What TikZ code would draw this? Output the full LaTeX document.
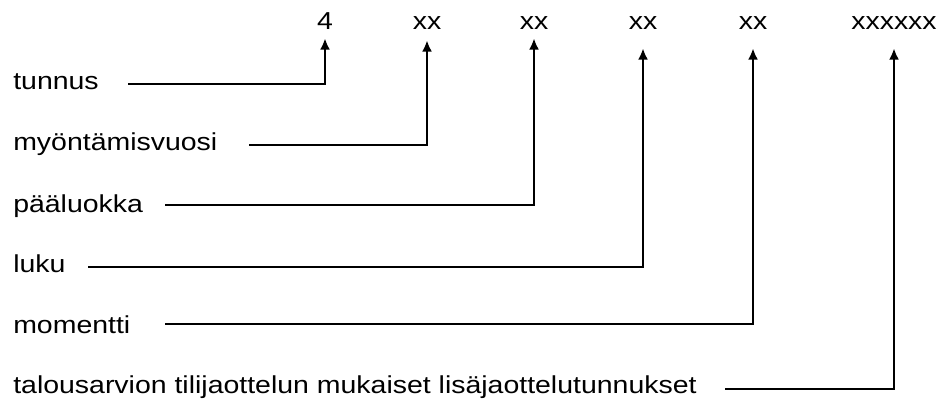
\documentclass[tikz,border=0pt]{standalone}
\usepackage{fontspec}
\setmainfont[FakeStretch=1.16]{Liberation Sans}
\usetikzlibrary{arrows.meta}
\begin{document}
\begin{tikzpicture}[x=0.75pt,y=-0.75pt,
  lbl/.style={anchor=base west,inner sep=0pt,font=\fontsize{18.4pt}{20pt}\selectfont},
  digits/.style={anchor=base,inner sep=0pt,font=\fontsize{18.4pt}{20pt}\selectfont},
  conn/.style={line width=1.7pt,-{Latex[length=8.5pt,width=7.5pt]}}]
 \useasboundingbox (0,0) rectangle (944,401);
 \foreach \i/\txt/\by/\sx/\ly/\dx/\dtxt/\sh in {
   1/tunnus/89/128/84/325/4/6.75,
   2/myöntämisvuosi/150/249/145/427/xx/8.25,
   3/pääluokka/212/165/205/534/xx/6.75,
   4/luku/272/88/267/643/xx/14.25,
   5/momentti/333/165/324/753/xx/14.25,
   6/talousarvion tilijaottelun mukaiset lisäjaottelutunnukset/393/725/389/894/xxxxxx/14.25}{
   \node[digits] (d\i) at (\dx,29) {\dtxt};
   \node[lbl] (l\i) at (13,\by) {\txt};
   \coordinate (s\i) at (\sx,\ly);
   \draw[conn,shorten >=\sh pt] (s\i) -| (d\i.south);
 }
\end{tikzpicture}
\end{document}
